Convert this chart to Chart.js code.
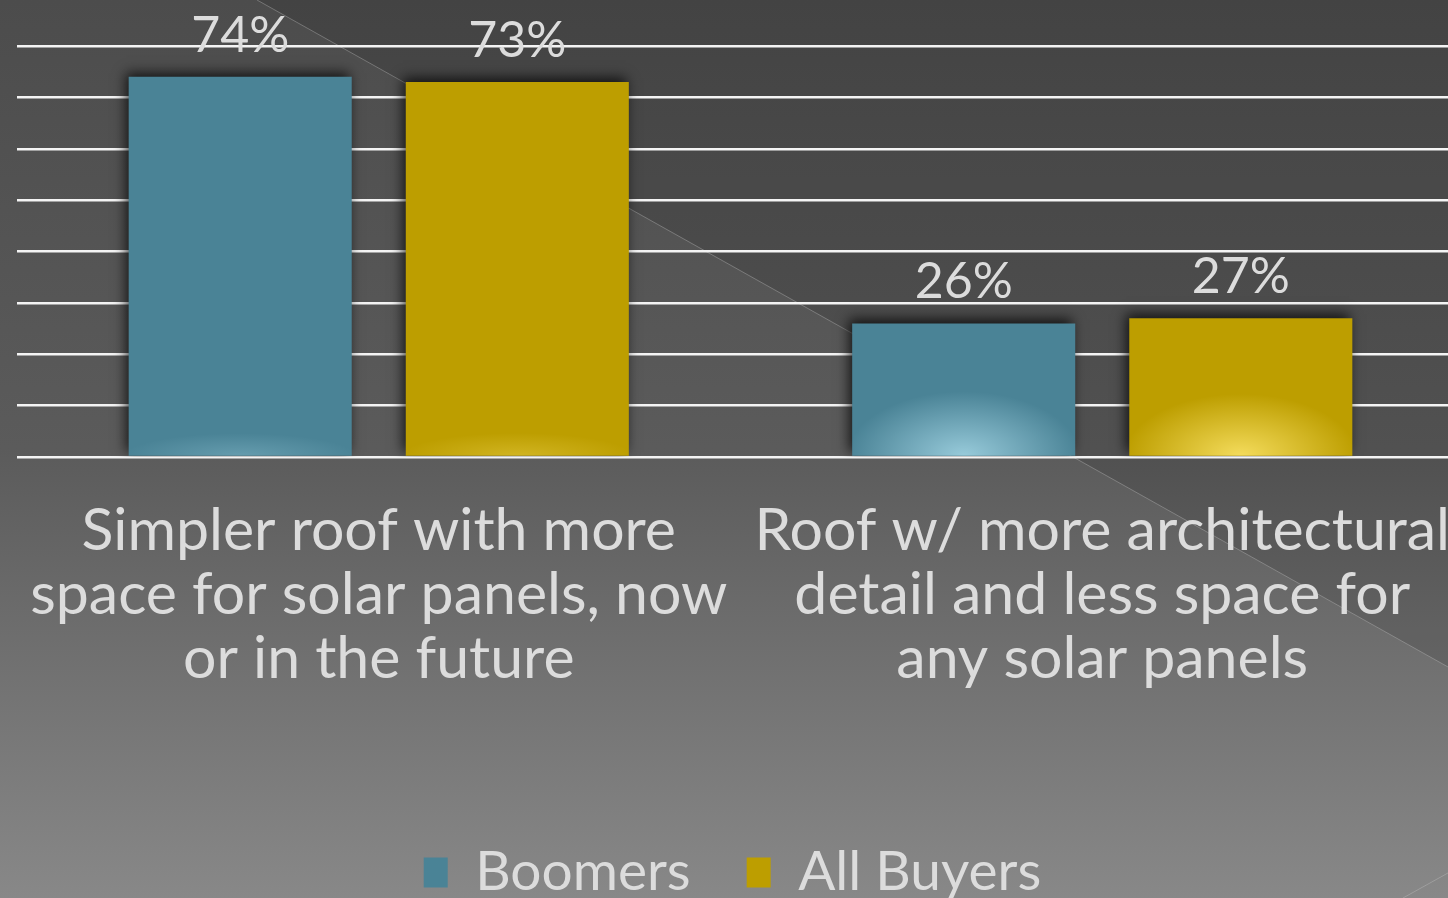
<!DOCTYPE html>
<html>
<head>
<meta charset="utf-8">
<script src="https://cdn.jsdelivr.net/npm/chart.js@4/dist/chart.umd.min.js"></script>
<style>
html,body{margin:0;padding:0;overflow:hidden;background:#4b4b4b;}
#wrap{position:absolute;left:0;top:0;width:1464px;height:910px;}
</style>
</head>
<body>
<div id="wrap"><canvas id="c"></canvas></div>
<script>
const categories = [
  ["Simpler roof with more", "space for solar panels, now", "or in the future"],
  ["Roof w/ more architectural", "detail and less space for", "any solar panels"]
];
const seriesNames = ["Boomers", "All Buyers"];
const boomers = [74, 26];
const allBuyers = [73, 27];
const seriesColors = ["#4a8396", "#bd9e00"];
const glowColors = ["rgba(165,215,230,", "rgba(255,232,110,"];

const FONT = "Lato, 'Open Sans', sans-serif";
const LEGEND_SIZE = 55;

const bgPlugin = {
  id: 'bg',
  beforeDraw(chart) {
    const ctx = chart.ctx, W = chart.width, H = chart.height;
    ctx.save();
    const g = ctx.createLinearGradient(0, 0, 0, 898);
    g.addColorStop(0, '#4c4c4c');
    g.addColorStop(0.5, '#5b5b5b');
    g.addColorStop(1, '#888888');
    ctx.fillStyle = g;
    ctx.fillRect(0, 0, W, H);
    const x0 = 257, sl = 0.56;
    ctx.beginPath();
    ctx.moveTo(x0, 0);
    ctx.lineTo(W, 0);
    ctx.lineTo(W, (W - x0) * sl);
    ctx.closePath();
    ctx.fillStyle = 'rgba(0,0,0,0.11)';
    ctx.fill();
    ctx.beginPath();
    ctx.moveTo(x0, 0);
    ctx.lineTo(W, (W - x0) * sl);
    ctx.strokeStyle = 'rgba(200,200,200,0.35)';
    ctx.lineWidth = 1;
    ctx.stroke();
    ctx.beginPath();
    ctx.moveTo(1403, 898);
    ctx.lineTo(W, 898 - (W - 1403) * 0.556);
    ctx.stroke();
    ctx.restore();
  }
};

const legendShift = {
  id: 'legendShift',
  afterLayout(chart) {
    const lg = chart.legend;
    if (lg) { lg.left -= 8; lg.right -= 8; }
  }
};

const barFx = {
  id: 'barFx',
  beforeDatasetsDraw(chart) {
    const ctx = chart.ctx;
    ctx.save();
    ctx.shadowColor = 'rgba(0,0,0,0.75)';
    ctx.shadowBlur = 12;
    ctx.shadowOffsetX = -3;
    ctx.shadowOffsetY = -4;
  },
  afterDatasetsDraw(chart) {
    const ctx = chart.ctx;
    ctx.restore();
    chart.data.datasets.forEach((ds, di) => {
      const meta = chart.getDatasetMeta(di);
      meta.data.forEach((bar, i) => {
        const w = bar.width, h = bar.base - bar.y;
        const left = bar.x - w / 2;
        ctx.save();
        ctx.beginPath();
        ctx.rect(left, bar.y, w, h);
        ctx.clip();
        const rx = w * 0.52;
        const ry = Math.min(70, 8500 / h);
        const a = Math.min(0.85, 115 / h);
        ctx.translate(bar.x, bar.base);
        ctx.scale(1, ry / rx);
        const rg = ctx.createRadialGradient(0, 0, 0, 0, 0, rx);
        rg.addColorStop(0, glowColors[di] + a + ')');
        rg.addColorStop(0.55, glowColors[di] + (a * 0.45) + ')');
        rg.addColorStop(1, glowColors[di] + '0)');
        ctx.fillStyle = rg;
        ctx.fillRect(-rx, -rx, rx * 2, rx * 2);
        ctx.restore();
        ctx.save();
        ctx.font = "50px " + FONT;
        ctx.fillStyle = '#dcdcdc';
        ctx.textAlign = 'center';
        ctx.textBaseline = 'alphabetic';
        ctx.fillText(ds.data[i] + '%', bar.x, bar.y - 25);
        ctx.restore();
      });
    });
  }
};

new Chart(document.getElementById('c'), {
  type: 'bar',
  data: {
    labels: categories,
    datasets: [
      { label: seriesNames[0], data: boomers, backgroundColor: seriesColors[0] },
      { label: seriesNames[1], data: allBuyers, backgroundColor: seriesColors[1] }
    ]
  },
  options: {
    responsive: true,
    maintainAspectRatio: false,
    animation: false,
    devicePixelRatio: 1,
    layout: { padding: { top: 46, left: 17, right: 0, bottom: 0 } },
    datasets: { bar: { categoryPercentage: 0.766, barPercentage: 0.805 } },
    scales: {
      x: {
        grid: { display: false, drawTicks: false },
        border: { display: false },
        ticks: {
          color: '#dcdcdc',
          font: { family: FONT, size: 59, lineHeight: 64 / 59 },
          padding: 42,
          maxRotation: 0,
          autoSkip: false
        },
        afterFit(s) { s.height = 332; s.paddingLeft = 0; s.paddingRight = 0; }
      },
      y: {
        min: 0, max: 80,
        ticks: { display: false, stepSize: 10 },
        grid: { color: '#f4f4f4', lineWidth: 2.5, drawTicks: false },
        border: { display: false },
        afterFit(s) { s.width = 0; s.paddingTop = 0; s.paddingBottom = 0; }
      }
    },
    plugins: {
      legend: {
        position: 'bottom',
        labels: {
          color: '#dcdcdc',
          font: { family: FONT, size: LEGEND_SIZE },
          boxWidth: 24,
          boxHeight: 30,
          padding: 56
        }
      },
      tooltip: { enabled: false }
    }
  },
  plugins: [bgPlugin, legendShift, barFx]
});
</script>
</body>
</html>
